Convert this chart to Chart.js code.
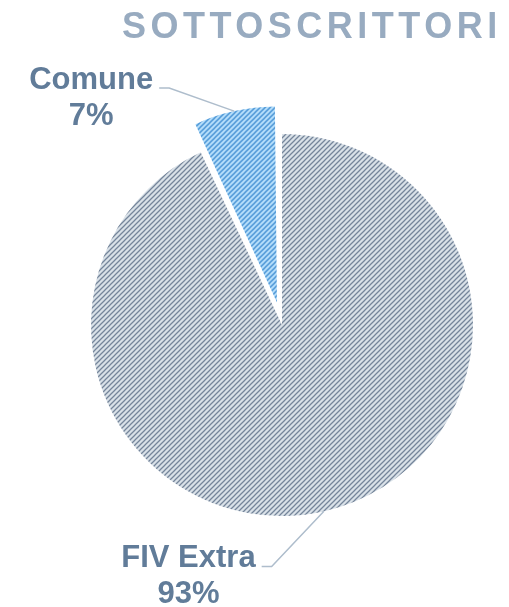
<!DOCTYPE html>
<html>
<head>
<meta charset="utf-8">
<script src="https://cdn.jsdelivr.net/npm/chart.js@4.4.0/dist/chart.umd.min.js"></script>
<style>
  html, body { margin: 0; padding: 0; background: #ffffff; }
  #wrap { width: 509px; height: 607px; position: relative; }
</style>
</head>
<body>
<div id="wrap"><canvas id="c" width="509" height="607"></canvas></div>
<script>
// ---- data ----
const categories = ['FIV Extra', 'Comune'];
const values = [93, 7];
const chartTitle = 'SOTTOSCRITTORI';

// ---- styling / layout ----
const labelColor = '#617c99';
const titleColor = '#98abc0';
const leaderColor = '#aebdcc';
const explodeOffsets = [0, 92];
const explodedRadiusFactor = [1, 0.958];
// leader elbow displacement from the arc edge point, and horizontal tail length
const leaderElbow = [[-52, 55], [-65, -23]];
const leaderTail = 10;

function makeHatch(bg, fg, size, lw) {
  const c = document.createElement('canvas');
  c.width = size; c.height = size;
  const g = c.getContext('2d');
  g.fillStyle = bg; g.fillRect(0, 0, size, size);
  g.strokeStyle = fg; g.lineWidth = lw; g.lineCap = 'square';
  g.beginPath();
  g.moveTo(-1, 1); g.lineTo(1, -1);
  g.moveTo(0, size); g.lineTo(size, 0);
  g.moveTo(size - 1, size + 1); g.lineTo(size + 1, size - 1);
  g.stroke();
  return g.createPattern(c, 'repeat');
}

const ctx0 = document.getElementById('c').getContext('2d');
const grayHatch = makeHatch('#d9e1e8', '#75859a', 5, 1.25);
const blueHatch = makeHatch('#b8e0fc', '#3d8bd0', 5, 1.25);

const radiusTweak = {
  id: 'radiusTweak',
  beforeDatasetsDraw(chart) {
    const meta = chart.getDatasetMeta(0);
    meta.data.forEach((el, i) => {
      if (!el._baseR) el._baseR = el.outerRadius;
      el.outerRadius = el._baseR * explodedRadiusFactor[i];
    });
  }
};

const decorations = {
  id: 'decorations',
  afterDraw(chart) {
    const ctx = chart.ctx;
    ctx.save();
    // title
    ctx.font = 'bold 36px "Liberation Sans", Arial, sans-serif';
    ctx.fillStyle = titleColor;
    ctx.textAlign = 'left';
    ctx.textBaseline = 'alphabetic';
    try { ctx.letterSpacing = '4.5px'; } catch (e) {}
    ctx.fillText(chartTitle, 122, 38);
    try { ctx.letterSpacing = '0px'; } catch (e) {}

    const meta = chart.getDatasetMeta(0);
    const total = values.reduce((a, b) => a + b, 0);
    meta.data.forEach((el, i) => {
      const mid = (el.startAngle + el.endAngle) / 2;
      const circ = el.endAngle - el.startAngle;
      const off = (explodeOffsets[i] || 0) / 4;
      const fix = 1 - Math.sin(Math.min(Math.PI, circ));
      const t = off + off * fix;
      const r = el.outerRadius + t;
      const px = el.x + Math.cos(mid) * r;
      const py = el.y + Math.sin(mid) * r;
      const ex = px + leaderElbow[i][0];
      const ey = py + leaderElbow[i][1];
      const tx = ex - leaderTail;
      ctx.strokeStyle = leaderColor;
      ctx.lineWidth = 1.5;
      ctx.beginPath();
      ctx.moveTo(px, py); ctx.lineTo(ex, ey); ctx.lineTo(tx, ey);
      ctx.stroke();

      ctx.font = 'bold 31px "Liberation Sans", Arial, sans-serif';
      ctx.fillStyle = labelColor;
      ctx.textAlign = 'center';
      const name = categories[i];
      const w = ctx.measureText(name).width;
      const cx = tx - 6 - w / 2;
      const base = ey + 1;
      ctx.fillText(name, cx, base);
      const pct = Math.round(values[i] / total * 100) + '%';
      ctx.fillText(pct, cx, base + 36);
    });
    ctx.restore();
  }
};

new Chart(ctx0, {
  type: 'pie',
  data: {
    labels: categories,
    datasets: [{
      data: values,
      backgroundColor: [grayHatch, blueHatch],
      borderWidth: 0,
      offset: explodeOffsets
    }]
  },
  options: {
    responsive: false,
    animation: false,
    radius: 191,
    layout: { padding: { left: 55, right: 0, top: 43, bottom: 0 } },
    plugins: {
      legend: { display: false },
      tooltip: { enabled: false },
      title: { display: false }
    },
    events: []
  },
  plugins: [radiusTweak, decorations]
});
</script>
</body>
</html>
